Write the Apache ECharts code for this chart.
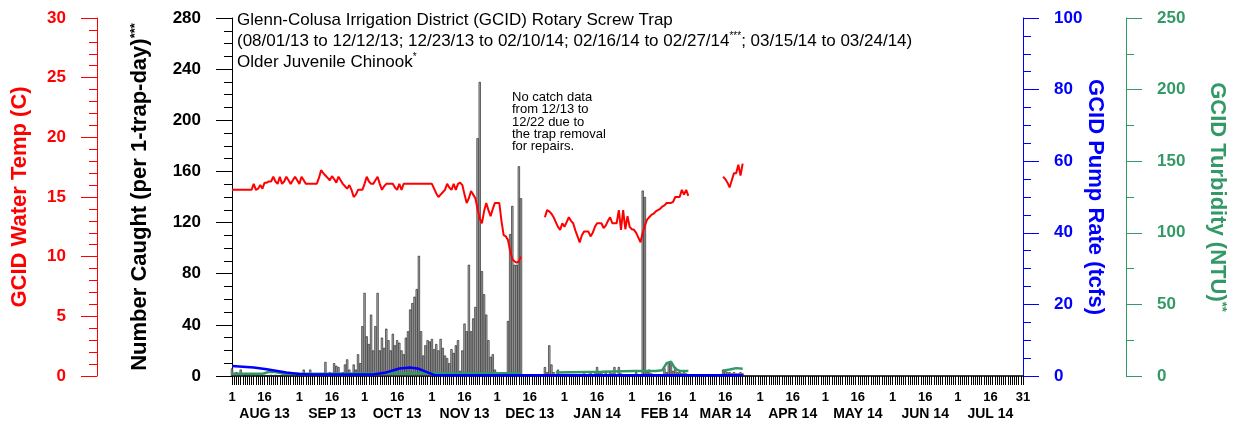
<!DOCTYPE html>
<html>
<head>
<meta charset="utf-8">
<script src="https://cdn.jsdelivr.net/npm/echarts@6/dist/echarts.min.js"></script>
<style>
    html, body {margin: 0; padding: 0; background: #fff;}
    #chart {width: 1238px; height: 423px;}
</style>
</head>
<body>
<div id="chart"></div>
<script>
// x axis: one category per day, 08/01/13 .. 07/31/14
const monthLabels = ['AUG 13', 'SEP 13', 'OCT 13', 'NOV 13', 'DEC 13', 'JAN 14',
    'FEB 14', 'MAR 14', 'APR 14', 'MAY 14', 'JUN 14', 'JUL 14'];
const monthLengths = [31, 30, 31, 30, 31, 31, 28, 31, 30, 31, 30, 31];

// catch per 1-trap-day, one value per sampled day
const catchAugDec = [ // day 0 (08/01/13) .. day 133 (12/12/13)
    6, 2, 3, 1, 5, 1, 0, 1, 1, 2,
    1, 1, 0, 1, 0, 1, 0, 0, 1, 0,
    1, 0, 0, 1, 2, 1, 1, 1, 0, 1,
    0, 1, 1, 5, 1, 1, 5, 2, 2, 2,
    1, 1, 2, 11, 2, 3, 2, 10, 8, 7,
    2, 3, 9, 13, 5, 2, 9, 5, 17, 10,
    39, 65, 31, 25, 48, 20, 39, 65, 20, 30,
    22, 37, 28, 20, 33, 24, 28, 26, 20, 17,
    30, 35, 52, 57, 62, 68, 94, 35, 16, 24,
    28, 27, 29, 21, 25, 20, 29, 22, 16, 14,
    10, 21, 18, 24, 28, 4, 20, 41, 35, 87,
    35, 45, 54, 186, 230, 82, 64, 48, 28, 15,
    17, 5, 3, 3, 2, 3, 2, 43, 111, 133,
    87, 87, 164, 139];
const catchDecFeb = [ // day 144 (12/23/13) .. day 193 (02/10/14)
    7, 3, 24, 9, 3, 1, 5, 1, 1, 0,
    1, 1, 0, 1, 0, 1, 1, 0, 2, 0,
    1, 3, 1, 2, 7, 3, 3, 1, 4, 1,
    3, 2, 7, 1, 7, 2, 1, 0, 1, 0,
    0, 1, 3, 1, 1, 145, 140, 3, 5, 2];
const catchFeb = [6, 3, 11, 11, 4, 7, 3, 3, 2, 3, 2, 1]; // day 199 .. 210
const catchMar = [5, 4, 3, 3, 2, 3, 2, 2, 3, 2];          // day 226 .. 235
const catchStarts = [0, 144, 199, 226];

// water temperature (C)
const tempAugDec = [ // day 0 .. 133
    15.6, 15.6, 15.6, 15.6, 15.6, 15.6, 15.6, 15.6, 15.6, 15.6,
    16.1, 15.6, 15.7, 16.0, 15.7, 16.2, 16.2, 16.3, 16.3, 16.7,
    16.3, 16.1, 16.7, 16.1, 16.3, 16.7, 16.4, 16.1, 16.4, 16.7,
    16.4, 16.1, 16.7, 16.4, 16.1, 16.1, 16.1, 16.1, 16.1, 16.1,
    16.6, 17.25, 17.0, 16.8, 16.6, 16.4, 16.75, 16.5, 16.2, 16.7,
    16.4, 16.1, 15.9, 15.7, 16.0, 15.6, 15.0, 15.2, 15.6, 15.6,
    15.6, 16.1, 16.7, 16.3, 16.1, 16.1, 16.4, 16.7, 16.1, 15.6,
    15.9, 16.1, 16.1, 16.1, 16.1, 15.8, 15.6, 16.1, 15.6, 16.1,
    16.1, 16.1, 16.1, 16.1, 16.1, 16.1, 16.1, 16.1, 16.1, 16.1,
    16.1, 16.1, 16.1, 15.7, 15.3, 15.0, 15.2, 15.4, 15.6, 16.1,
    15.8, 15.6, 16.1, 15.6, 16.1, 16.2, 16.0, 15.2, 14.5, 14.9,
    15.5, 15.2, 14.9, 14.0, 13.2, 12.8, 13.8, 14.5, 13.9, 13.4,
    14.0, 14.5, 14.5, 14.5, 13.0, 11.8, 11.7, 11.4, 10.5, 9.8,
    9.6, 9.5, 9.6, 10.0];
const tempDecFeb = [ // day 144 .. 210
    13.3, 13.9, 13.8, 13.6, 13.3, 12.9, 12.5, 12.25, 12.8, 12.5,
    12.9, 13.3, 13.0, 12.8, 12.2, 11.7, 11.2, 11.8, 12.1, 12.1,
    12.1, 11.7, 12.0, 12.5, 12.8, 12.8, 12.8, 12.4, 12.6, 13.0,
    13.3, 12.8, 12.8, 12.8, 13.9, 12.25, 13.9, 12.3, 13.4, 12.5,
    12.3, 12.25, 12.0, 11.6, 11.2, 12.0, 12.6, 13.1, 13.3, 13.5,
    13.6, 13.8, 13.9, 14.0, 14.2, 14.3, 14.5, 14.5, 14.5, 14.6,
    15.0, 15.0, 15.0, 15.6, 15.2, 15.6, 15.1];
const tempMar = [16.7, 16.5, 16.2, 15.8, 16.4, 17.0, 17.0, 17.7, 16.8, 17.8]; // day 226 .. 235
const tempStarts = [0, 144, 226];

// pump rate (tcfs), read at these days
const pumpDays = [0, 5, 10, 16, 25, 31, 36, 50, 65, 71, 77, 82, 86, 90, 93, 100, 235];
const pumpVals = [2.8, 2.6, 2.4, 1.9, 1.0, 0.55, 0.4, 0.4, 0.4, 1.0, 2.1, 2.4, 2.0, 1.0, 0.3, 0.2, 0.2];

// turbidity (NTU), null = break in the line
const turbDays = [0, 14, 17, 20, 24, 40, 80, 133, 134, 149, 170, 185, 195, 198, 200, 202, 204, 206, 210, 211, 226, 229, 232, 235];
const turbVals = [1.5, 1.5, 3.0, 2.8, 1.5, 1.5, 2.0, 2.0, null, 2.5, 3.0, 3.5, 3.5, 4.0, 9.0, 10.0, 5.0, 3.5, 3.5, null, 3.7, 4.5, 5.5, 5.0];

const dayOfMonth = [];
const monthOf = [];
monthLengths.forEach((len, m) => {
    for (let d = 1; d <= len; d++) {
        dayOfMonth.push(d);
        monthOf.push(m);
    }
});
const categories = dayOfMonth.map((d, i) => monthLabels[monthOf[i]] + ' ' + d);
const lastDay = categories.length - 1;

function fillDays(segments, starts) {
    const out = categories.map(() => '-');
    segments.forEach((seg, k) => seg.forEach((v, i) => { out[starts[k] + i] = v; }));
    return out;
}

const catchData = fillDays([catchAugDec, catchDecFeb, catchFeb, catchMar], catchStarts);
const tempData = fillDays([tempAugDec, tempDecFeb, tempMar], tempStarts);
const pumpData = pumpDays.map((d, i) => [d, pumpVals[i]]);
const turbData = turbDays.map((d, i) => [d, turbVals[i] === null ? '-' : turbVals[i]]);

const FONT = 'Liberation Sans';
const RED = '#ff0000';
const BLUE = '#0000ff';
const GREEN = '#339966';

function yAxisStyle(color, position, offset, max, interval, minorSplit, name, nameGap) {
    return {
        type: 'value',
        position: position,
        offset: offset,
        min: 0,
        max: max,
        interval: interval,
        name: name,
        nameLocation: 'middle',
        nameRotate: position === 'left' ? 90 : -90,
        nameGap: nameGap,
        nameMoveOverlap: false,
        nameTextStyle: {
            color: color, fontFamily: FONT, fontSize: 22, fontWeight: 'bold',
            rich: {s: {color: color, fontFamily: FONT, fontSize: 13, fontWeight: 'bold', verticalAlign: 'top'}}
        },
        axisLine: {show: true, lineStyle: {color: color, width: 1}},
        axisTick: {show: true, length: 16, lineStyle: {color: color}},
        minorTick: {show: true, splitNumber: minorSplit, length: 8, lineStyle: {color: color}},
        axisLabel: {color: color, fontFamily: FONT, fontSize: 17, fontWeight: 'bold', margin: 31},
        splitLine: {show: false}
    };
}

const chart = echarts.init(document.getElementById('chart'));
chart.setOption({
    animation: false,
    backgroundColor: '#fff',
    title: [{
        text: 'Glenn-Colusa Irrigation District (GCID) Rotary Screw Trap\n' +
            '(08/01/13 to 12/12/13; 12/23/13 to 02/10/14; 02/16/14 to 02/27/14{s|***}; 03/15/14 to 03/24/14)\n' +
            'Older Juvenile Chinook{s|*}',
        left: 237,
        top: 10,
        padding: 0,
        textStyle: {
            color: '#000', fontFamily: FONT, fontSize: 17, fontWeight: 'normal', lineHeight: 21,
            rich: {s: {fontFamily: FONT, fontSize: 10, verticalAlign: 'top', lineHeight: 21}}
        }
    }, {
        text: 'No catch data\nfrom 12/13 to\n12/22 due to\nthe trap removal\nfor repairs.',
        left: 512,
        top: 91,
        padding: 0,
        textStyle: {color: '#000', fontFamily: FONT, fontSize: 13, fontWeight: 'normal', lineHeight: 12.4}
    }],
    grid: {left: 232, right: 215, top: 18, bottom: 46, containLabel: false},
    xAxis: [{
        type: 'category',
        data: categories,
        boundaryGap: false,
        axisLine: {lineStyle: {color: '#000', width: 1.5}},
        axisTick: {show: true, interval: 0, length: 9, lineStyle: {color: '#000', width: 1}},
        axisLabel: {
            interval: (i) => dayOfMonth[i] === 1 || dayOfMonth[i] === 16 || i === lastDay,
            formatter: (v, i) => dayOfMonth[i] === 16
                ? '16\n{m|' + monthLabels[monthOf[i]] + '}'
                : String(dayOfMonth[i]),
            color: '#000', fontFamily: FONT, fontSize: 13, fontWeight: 'bold',
            lineHeight: 17, margin: 13,
            rich: {m: {color: '#000', fontFamily: FONT, fontSize: 14, fontWeight: 'bold', lineHeight: 17}}
        },
        splitLine: {show: false}
    }, {
        type: 'value',
        min: 0,
        max: lastDay,
        show: false
    }],
    yAxis: [
        yAxisStyle('#000', 'left', 0, 280, 40, 4, 'Number Caught (per 1-trap-day){s|***}', 81),
        yAxisStyle(RED, 'left', 135, 30, 5, 5, 'GCID Water Temp (C)', 66),
        yAxisStyle(BLUE, 'right', 0, 100, 20, 4, 'GCID Pump Rate (tcfs)', 61),
        yAxisStyle(GREEN, 'right', 103, 250, 50, 2, 'GCID Turbidity (NTU){s|**}', 80)
    ],
    series: [{
        name: 'Water Temp',
        type: 'line',
        xAxisIndex: 0,
        yAxisIndex: 1,
        data: tempData,
        showSymbol: false,
        connectNulls: false,
        lineStyle: {color: RED, width: 2},
        itemStyle: {color: RED}
    }, {
        name: 'Number Caught',
        type: 'bar',
        xAxisIndex: 0,
        yAxisIndex: 0,
        data: catchData,
        barCategoryGap: '0%',
        itemStyle: {color: '#b4b4b4', borderColor: '#111', borderWidth: 0.6}
    }, {
        name: 'Turbidity',
        type: 'line',
        xAxisIndex: 1,
        yAxisIndex: 3,
        data: turbData,
        showSymbol: false,
        connectNulls: false,
        lineStyle: {color: GREEN, width: 2.5},
        itemStyle: {color: GREEN}
    }, {
        name: 'Pump Rate',
        type: 'line',
        xAxisIndex: 1,
        yAxisIndex: 2,
        data: pumpData,
        showSymbol: false,
        lineStyle: {color: BLUE, width: 2.5},
        itemStyle: {color: BLUE}
    }]
});
</script>
</body>
</html>
